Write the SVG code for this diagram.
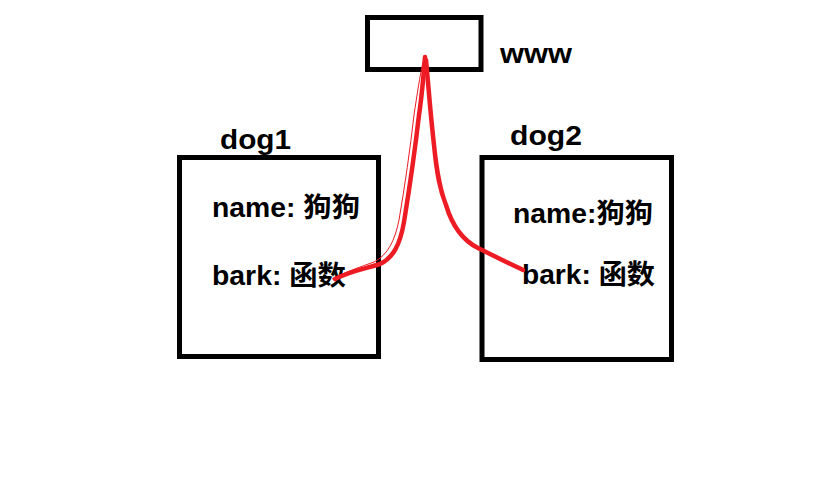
<svg xmlns="http://www.w3.org/2000/svg" width="834" height="482" viewBox="0 0 834 482">
<style>
.box{fill:none;stroke:#000;stroke-width:5}
.t{font-family:"Liberation Sans","Noto Sans CJK SC",sans-serif;font-weight:bold;font-size:27px;fill:#000}
.red{fill:none;stroke:#ed1c24;stroke-width:4.5;stroke-linecap:round;stroke-linejoin:round}
.thin{fill:none;stroke:#ed1c24;stroke-width:1}
</style>
<rect width="834" height="482" fill="#fff"/>
<g id="www">
<rect class="box" x="367.5" y="17.5" width="113.5" height="52"/>
<text class="t" x="500" y="63" textLength="72" lengthAdjust="spacingAndGlyphs">www</text>
</g>
<g id="dog1">
<rect class="box" x="179.5" y="157.5" width="199" height="199"/>
<text class="t" x="220" y="149" textLength="71" lengthAdjust="spacingAndGlyphs">dog1</text>
<text class="t" x="212" y="217" textLength="148" lengthAdjust="spacingAndGlyphs">name: 狗狗</text>
<text class="t" x="212" y="285" textLength="134" lengthAdjust="spacingAndGlyphs">bark: 函数</text>
</g>
<g id="dog2">
<rect class="box" x="482" y="157.5" width="189.5" height="202"/>
<text class="t" x="510" y="145" textLength="72" lengthAdjust="spacingAndGlyphs">dog2</text>
<text class="t" x="513" y="223" textLength="140" lengthAdjust="spacingAndGlyphs">name:狗狗</text>
<text class="t" x="522" y="284" textLength="133" lengthAdjust="spacingAndGlyphs">bark: 函数</text>
</g>
<g id="connectors">
<path class="red" d="M425,57 C424,70 422,95 419,115 C415,150 410,185 404,222 C400,245 393,258 380,264 C368,268 350,271 335,279"/>
<path class="thin" d="M423,62 C420,75 417,95 414,115 C410,150 405,185 399,220 C395,240 388,255 374,262 C360,267 345,272 332,279"/>
<path class="red" d="M426,60 C428,80 430,110 434,145 C437,175 440,190 446,205 C452,225 462,240 478,248 C494,256 510,264 523,270"/>
</g>
</svg>
